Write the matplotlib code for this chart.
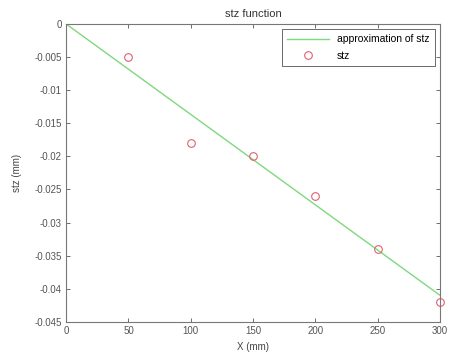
import matplotlib

matplotlib.use("Agg")
import matplotlib.pyplot as plt
from matplotlib.ticker import FixedLocator, FixedFormatter

# measured points
x_pts = [50, 100, 150, 200, 250, 300]
stz_pts = [-0.005, -0.018, -0.020, -0.026, -0.034, -0.042]

# linear approximation
x_fit = [0, 300]
stz_fit = [0.0, -0.0410]

x_ticks = [0, 50, 100, 150, 200, 250, 300]
y_ticks = [0, -0.005, -0.01, -0.015, -0.02, -0.025, -0.03, -0.035, -0.04, -0.045]
y_labels = ["0", "-0.005", "-0.01", "-0.015", "-0.02", "-0.025", "-0.03", "-0.035", "-0.04", "-0.045"]

plt.rcParams["font.family"] = "Liberation Sans"
fig = plt.figure(figsize=(4.5, 3.58), dpi=100)
ax = fig.add_axes([0.147, 0.101, 0.831, 0.832])

ax.plot(x_fit, stz_fit, color="#7ed87e", lw=1.0, label="approximation of stz")
ax.plot(x_pts, stz_pts, "o", mfc="none", mec="#e06070", ms=5.5, mew=0.8, label="stz", clip_on=False)

ax.set_xlim(0, 300)
ax.set_ylim(-0.045, 0)
ax.xaxis.set_major_locator(FixedLocator(x_ticks))
ax.yaxis.set_major_locator(FixedLocator(y_ticks))
ax.yaxis.set_major_formatter(FixedFormatter(y_labels))
ax.tick_params(direction="in", length=3, width=0.6, labelsize=7, colors="#555555",
               top=True, right=True, pad=3)
for s in ax.spines.values():
    s.set_color("#777777")
    s.set_linewidth(0.8)

ax.set_title("stz function", fontsize=8, pad=5, color="#333333")
ax.set_xlabel("X (mm)", fontsize=7, labelpad=4, color="#444444")
ax.set_ylabel("stz (mm)", fontsize=7, labelpad=9, color="#444444")

leg = ax.legend(loc="upper right", fontsize=7.5, frameon=True, fancybox=False,
                edgecolor="#444444", borderaxespad=0.5, handlelength=4.0,
                borderpad=0.5, labelspacing=0.6, handletextpad=0.8)
leg.get_frame().set_linewidth(0.7)

fig.savefig("out.png", dpi=100)
